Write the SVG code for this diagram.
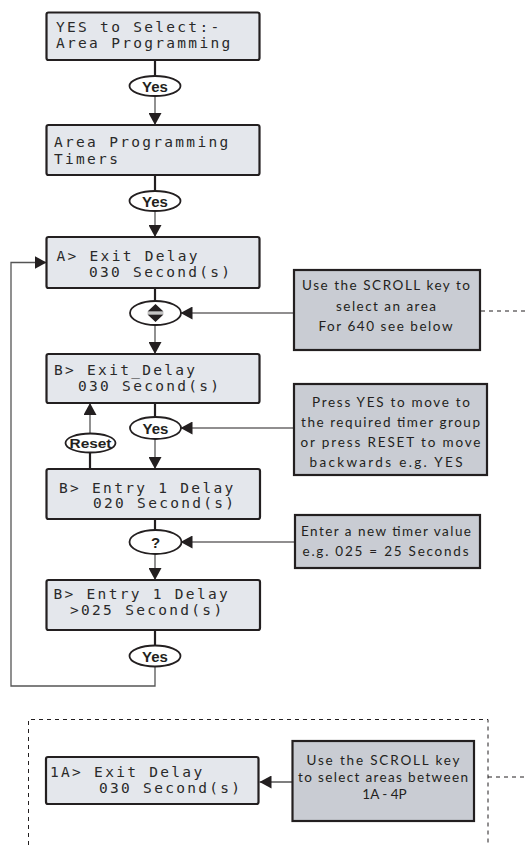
<svg xmlns="http://www.w3.org/2000/svg" width="528" height="845" viewBox="0 0 528 845">
<defs>
<style>
.lcd{fill:#e4e7ec;stroke:#231f20;stroke-width:2.2}
.note{fill:#c9ccd3;stroke:#231f20;stroke-width:2.2}
.ell{fill:#ffffff;stroke:#231f20;stroke-width:1.8}
.lt{font-family:"DejaVu Sans Mono","Liberation Mono",monospace;font-size:14.5px;letter-spacing:2.3px;fill:#2a2a2a}
.nt{font-family:Lato,"Open Sans","Liberation Sans",sans-serif;font-size:13.5px;fill:#231f20;text-anchor:middle}
.et{font-family:"Liberation Sans",Arial,sans-serif;font-weight:bold;font-size:15px;fill:#231f20;text-anchor:middle}
.thick{stroke:#231f20;stroke-width:2.2;fill:none}
.thin{stroke:#555555;stroke-width:1.3;fill:none}
.hl{stroke:#231f20;stroke-width:1.2;fill:none}
.dash{stroke:#231f20;stroke-width:1;fill:none;stroke-dasharray:4 4}
</style>
<marker id="ah" viewBox="0 0 12 13" refX="12" refY="6.5" markerWidth="12" markerHeight="13" markerUnits="userSpaceOnUse" orient="auto">
<path d="M0,0 L12,6.5 L0,13 z" fill="#231f20"/>
</marker>
</defs>

<g id="connectors">
<line class="thick" x1="155" y1="60" x2="155" y2="76"/>
<line class="thin" x1="155" y1="96" x2="155" y2="125" marker-end="url(#ah)"/>
<line class="thick" x1="155" y1="175" x2="155" y2="191"/>
<line class="thin" x1="155" y1="211" x2="155" y2="237" marker-end="url(#ah)"/>
<line class="thick" x1="155" y1="288" x2="155" y2="301"/>
<line class="thin" x1="155" y1="325" x2="155" y2="354" marker-end="url(#ah)"/>
<line class="thick" x1="155" y1="403" x2="155" y2="417"/>
<line class="thin" x1="155" y1="439" x2="155" y2="469" marker-end="url(#ah)"/>
<line class="thick" x1="90" y1="469" x2="90" y2="452.5"/>
<line class="thin" x1="90" y1="433.5" x2="90" y2="403" marker-end="url(#ah)"/>
<line class="thick" x1="155" y1="519" x2="155" y2="530"/>
<line class="thin" x1="155" y1="554" x2="155" y2="580" marker-end="url(#ah)"/>
<line class="thick" x1="155" y1="630" x2="155" y2="645.5"/>
<polyline class="thin" points="155,666.5 155,686 11,686 11,262.5 46.5,262.5" marker-end="url(#ah)"/>
<line class="hl" x1="294" y1="313" x2="180.5" y2="313" marker-end="url(#ah)"/>
<line class="dash" x1="481" y1="311" x2="528" y2="311"/>
<line class="hl" x1="294" y1="428" x2="180.5" y2="428" marker-end="url(#ah)"/>
<line class="hl" x1="295" y1="542" x2="180.5" y2="542" marker-end="url(#ah)"/>
<line class="thin" x1="292" y1="782" x2="259.5" y2="782" marker-end="url(#ah)"/>
<line class="dash" x1="488" y1="777" x2="528" y2="777"/>
</g>

<g id="frame640">
<polyline class="dash" points="28.5,845 28.5,719.5 488,719.5 488,845"/>
</g>

<g id="box1">
<rect class="lcd" x="46.5" y="12.5" width="213" height="47.5" rx="2"/>
<text class="lt" x="56" y="31.5">YES to Select:-</text>
<text class="lt" x="56" y="47.5">Area Programming</text>
</g>
<g id="yes1">
<ellipse class="ell" cx="155" cy="86" rx="25.5" ry="10"/>
<text class="et" x="155" y="91.5">Yes</text>
</g>

<g id="box2">
<rect class="lcd" x="46.5" y="125" width="213" height="50" rx="2"/>
<text class="lt" x="54" y="147">Area Programming</text>
<text class="lt" x="54" y="163.5">Timers</text>
</g>
<g id="yes2">
<ellipse class="ell" cx="155" cy="201" rx="25.5" ry="10"/>
<text class="et" x="155" y="206.5">Yes</text>
</g>

<g id="box3">
<rect class="lcd" x="46.5" y="237" width="213" height="51" rx="2"/>
<text class="lt" x="56.5" y="261">A&gt; Exit Delay</text>
<text class="lt" x="89" y="277">030 Second(s)</text>
</g>
<g id="scroll">
<ellipse class="ell" cx="155.5" cy="313" rx="25.5" ry="12"/>
<path d="M155.5,304 L163.5,311.5 L147.5,311.5 z M147.5,314.5 L163.5,314.5 L155.5,322 z" fill="#231f20"/>
<line x1="147.5" y1="313" x2="163.5" y2="313" stroke="#888888" stroke-width="1"/>
</g>

<g id="box4">
<rect class="lcd" x="46.5" y="354" width="213" height="49" rx="2"/>
<text class="lt" x="54" y="375">B&gt; Exit_Delay</text>
<text class="lt" x="78" y="391">030 Second(s)</text>
</g>
<g id="yes3">
<ellipse class="ell" cx="155.5" cy="428" rx="25.5" ry="11"/>
<text class="et" x="155.5" y="433.5">Yes</text>
</g>
<g id="reset">
<ellipse class="ell" cx="90.5" cy="443" rx="25" ry="9.5"/>
<text class="et" x="90.5" y="448" style="font-size:13.5px" textLength="42" lengthAdjust="spacingAndGlyphs">Reset</text>
</g>

<g id="box5">
<rect class="lcd" x="46.5" y="469" width="213.5" height="50" rx="2"/>
<text class="lt" x="59" y="492.5">B&gt; Entry 1 Delay</text>
<text class="lt" x="93" y="508">020 Second(s)</text>
</g>
<g id="question">
<ellipse class="ell" cx="155.5" cy="542" rx="26" ry="12"/>
<text class="et" x="155.5" y="548">?</text>
</g>

<g id="box6">
<rect class="lcd" x="46.5" y="580" width="213.5" height="50" rx="2"/>
<text class="lt" x="53.5" y="599">B&gt; Entry 1 Delay</text>
<text class="lt" x="70" y="614.5">&gt;025 Second(s)</text>
</g>
<g id="yes4">
<ellipse class="ell" cx="155" cy="656" rx="25.5" ry="10.5"/>
<text class="et" x="155" y="661.5">Yes</text>
</g>

<g id="note1">
<rect class="note" x="294" y="270" width="186" height="80"/>
<text class="nt" x="386" y="290" textLength="168" lengthAdjust="spacing">Use the SCROLL key to</text>
<text class="nt" x="386" y="310.5" textLength="100" lengthAdjust="spacing">select an area</text>
<text class="nt" x="385.5" y="330.5" textLength="134" lengthAdjust="spacing">For 640 see below</text>
</g>

<g id="note2">
<rect class="note" x="294" y="384" width="193" height="91"/>
<text class="nt" x="391" y="406.5" textLength="158" lengthAdjust="spacing">Press YES to move to</text>
<text class="nt" x="390.5" y="426.5" textLength="179" lengthAdjust="spacing">the required timer group</text>
<text class="nt" x="390.5" y="446.5" textLength="180" lengthAdjust="spacing">or press RESET to move</text>
<text class="nt" x="386" y="466.5" textLength="153" lengthAdjust="spacing">backwards e.g. YES</text>
</g>

<g id="note3">
<rect class="note" x="295" y="515" width="185" height="53"/>
<text class="nt" x="386" y="536" textLength="170" lengthAdjust="spacing">Enter a new timer value</text>
<text class="nt" x="385.5" y="556" textLength="166" lengthAdjust="spacing">e.g. 025 =  25 Seconds</text>
</g>

<g id="box7">
<rect class="lcd" x="46" y="757" width="212.5" height="47" rx="2"/>
<text class="lt" x="50" y="776.5">1A&gt; Exit Delay</text>
<text class="lt" x="99" y="793">030 Second(s)</text>
</g>

<g id="note4">
<rect class="note" x="292.5" y="741" width="181.5" height="80"/>
<text class="nt" x="383" y="765" textLength="153" lengthAdjust="spacing">Use the SCROLL key</text>
<text class="nt" x="383" y="782" textLength="170" lengthAdjust="spacing">to select areas between</text>
<text class="nt" x="384.5" y="799">1A - 4P</text>
</g>
</svg>
